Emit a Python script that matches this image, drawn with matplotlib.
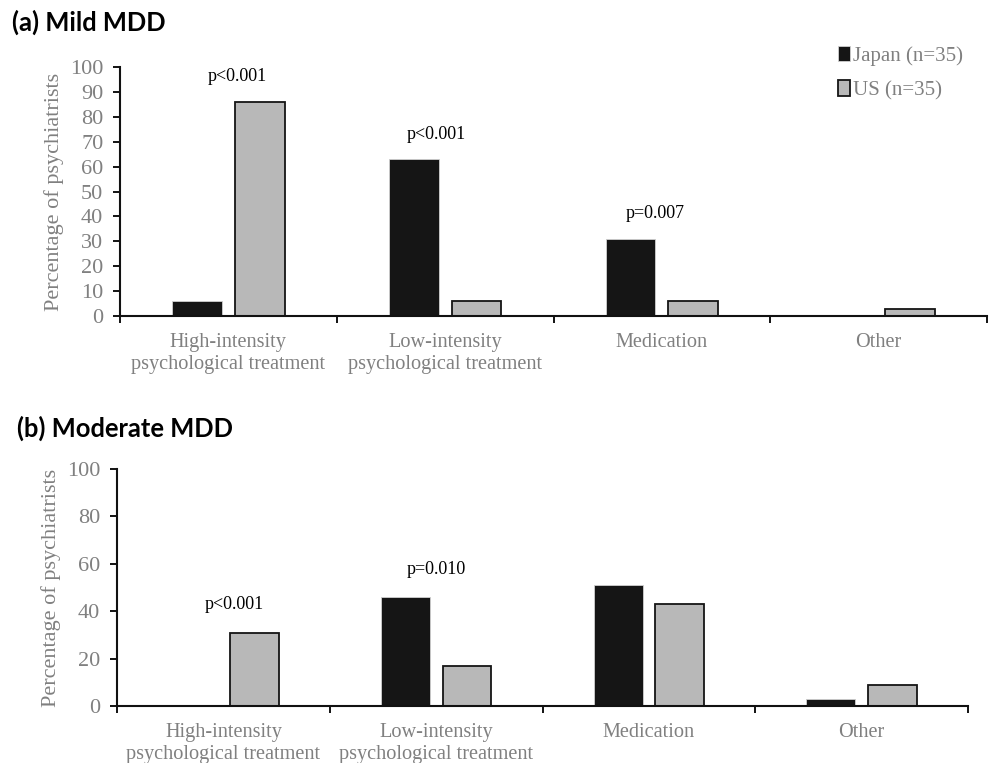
import matplotlib

matplotlib.use("Agg")
import matplotlib.pyplot as plt
import numpy as np

# Survey data: share of psychiatrists choosing each first-line treatment (%)
CATEGORIES = [
    "High-intensity\npsychological treatment",
    "Low-intensity\npsychological treatment",
    "Medication",
    "Other",
]
SERIES = ["Japan (n=35)", "US (n=35)"]

MILD_JAPAN = [6, 63, 31, 0]
MILD_US = [86, 6, 6, 3]
MILD_PVALS = ["p<0.001", "p<0.001", "p=0.007", ""]

MODERATE_JAPAN = [0, 46, 51, 3]
MODERATE_US = [31, 17, 43, 9]
MODERATE_PVALS = ["p<0.001", "p=0.010", "", ""]

SERIF = "Liberation Serif"
GRAY_TEXT = "#808080"
JAPAN_COLOR = "#151515"
US_COLOR = "#b8b8b8"
FS_TICK = 16
FS_CAT = 14.6


def draw_panel(ax, japan, us, pvals, ystep, pdx, pdy):
    x = np.arange(len(CATEGORIES))
    w = 0.23
    off = 0.145
    ax.bar(x - off, japan, w, color=JAPAN_COLOR, edgecolor="#d0d0d0",
           linewidth=0.6, label=SERIES[0], zorder=2)
    ax.bar(x + off, us, w, color=US_COLOR, edgecolor="#151515",
           linewidth=1.3, label=SERIES[1], zorder=2)

    ax.set_xlim(-0.5, len(CATEGORIES) - 0.5)
    ax.set_ylim(0, 100)
    ax.set_yticks(np.arange(0, 101, ystep))
    ax.set_xticks(x)
    ax.set_xticklabels(CATEGORIES, fontsize=FS_CAT, family=SERIF,
                       color=GRAY_TEXT, linespacing=1.25)
    ax.set_xticks(np.arange(-0.5, len(CATEGORIES), 1.0), minor=True)
    ax.tick_params(axis="x", which="major", length=0, pad=12)
    ax.tick_params(axis="x", which="minor", length=5, width=1.3, direction="out")
    ax.tick_params(axis="y", length=5, width=1.3, direction="out", pad=7,
                   labelsize=FS_TICK, labelcolor=GRAY_TEXT)
    for lab in ax.get_yticklabels():
        lab.set_family(SERIF)
    ax.set_ylabel("Percentage of psychiatrists", fontsize=FS_TICK,
                  family=SERIF, color=GRAY_TEXT, labelpad=4)

    for s in ("top", "right"):
        ax.spines[s].set_visible(False)
    for s in ("left", "bottom"):
        ax.spines[s].set_linewidth(1.5)
        ax.spines[s].set_color("#111111")

    # significance labels above each category's taller bar
    for i, p in enumerate(pvals):
        if not p:
            continue
        top = max(japan[i], us[i])
        ax.annotate(p, (x[i] + pdx[i], top), xytext=(0, pdy),
                    textcoords="offset points", ha="center", va="center",
                    fontsize=13, family=SERIF, color="black")


fig = plt.figure(figsize=(9.9, 7.63), dpi=100)
ax1 = fig.add_axes([0.1212, 0.5858, 0.8758, 0.3264])
ax2 = fig.add_axes([0.1182, 0.0747, 0.8596, 0.3106])

draw_panel(ax1, MILD_JAPAN, MILD_US, MILD_PVALS, 10, [0.04, -0.04, -0.03, 0], 18)
draw_panel(ax2, MODERATE_JAPAN, MODERATE_US, MODERATE_PVALS, 20,
           [0.05, 0.0, 0, 0], 20)

leg = ax1.legend(loc="upper left", bbox_to_anchor=(0.806, 1.16), frameon=False,
                 prop={"family": SERIF, "size": 15}, handlelength=0.6,
                 handleheight=0.75, handletextpad=0.15, labelspacing=0.7)
for t in leg.get_texts():
    t.set_color(GRAY_TEXT)

fig.text(0.012, 0.971, "(a) Mild MDD", fontsize=18.4, fontweight="bold",
         family="Lato", va="center", ha="left")
fig.text(0.017, 0.438, "(b) Moderate MDD", fontsize=18.4, fontweight="bold",
         family="Lato", va="center", ha="left")

fig.savefig("out.png", dpi=100)
